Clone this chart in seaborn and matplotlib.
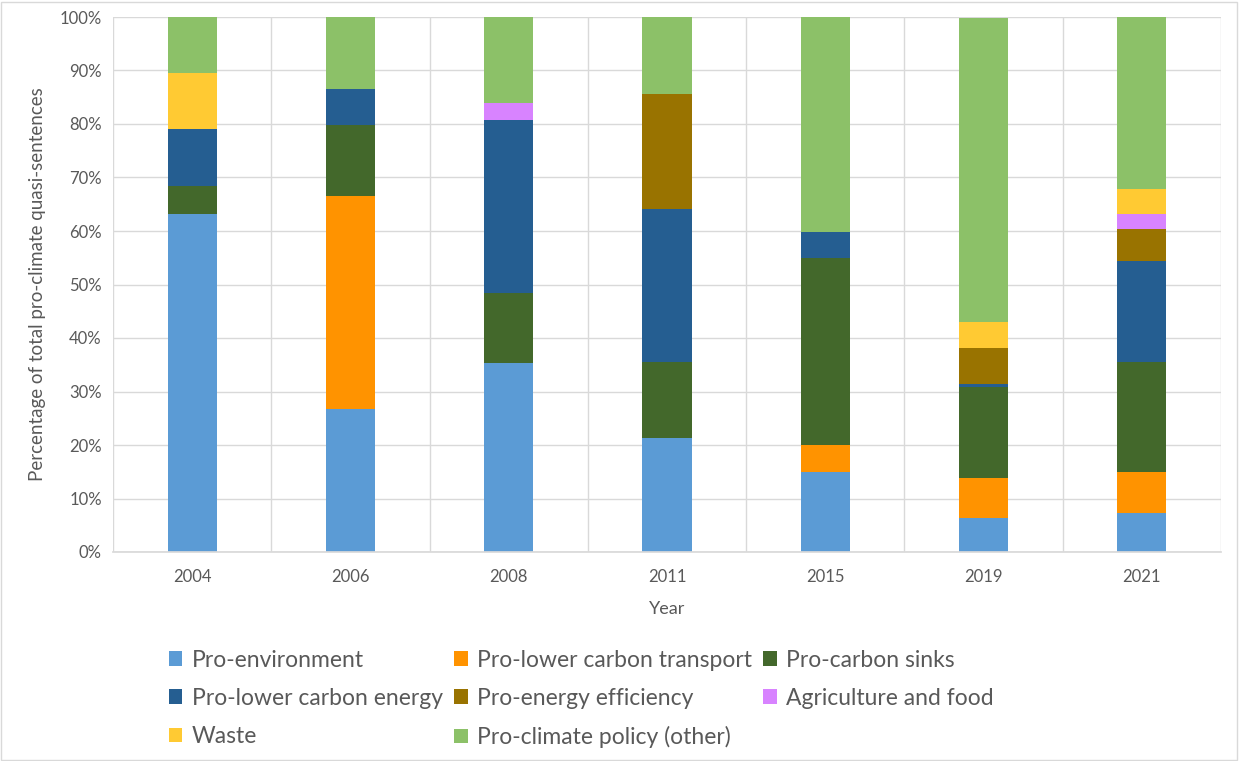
import matplotlib
matplotlib.use("Agg")
import matplotlib.pyplot as plt
import seaborn as sns
import numpy as np
import pandas as pd
from matplotlib.patches import Rectangle
from matplotlib.ticker import FixedLocator, PercentFormatter

years = ["2004", "2006", "2008", "2011", "2015", "2019", "2021"]
categories = ["Pro-environment", "Pro-lower carbon transport", "Pro-carbon sinks",
              "Pro-lower carbon energy", "Pro-energy efficiency", "Agriculture and food",
              "Waste", "Pro-climate policy (other)"]
pro_environment = [63.1, 26.7, 35.3, 21.4, 15.0, 6.3, 7.2]
pro_transport = [0.0, 39.9, 0.0, 0.0, 5.0, 7.6, 7.8]
pro_sinks = [5.3, 13.3, 13.1, 14.2, 35.0, 17.0, 20.6]
pro_energy = [10.6, 6.6, 32.3, 28.6, 4.9, 0.5, 18.8]
pro_efficiency = [0.0, 0.0, 0.0, 21.4, 0.0, 6.7, 6.0]
agriculture = [0.0, 0.0, 3.2, 0.0, 0.0, 0.0, 2.7]
waste = [10.5, 0.0, 0.0, 0.0, 0.0, 4.9, 4.7]
climate_other = [10.5, 13.5, 16.1, 14.4, 40.1, 56.9, 32.2]
colors = ["#5B9BD5", "#FF9300", "#43682B", "#255E91", "#997300", "#D883FF", "#FFCA33", "#8CC168"]

series = [pro_environment, pro_transport, pro_sinks, pro_energy, pro_efficiency,
          agriculture, waste, climate_other]

sns.set_theme(style="white")
plt.rcParams['font.family'] = ['Lato', 'DejaVu Sans']
text_color = "#595959"

fig = plt.figure(figsize=(12.39, 7.61), dpi=100)
ax = fig.add_axes([113/1239, (761-552)/761, (1221-113)/1239, (552-17)/761])

bottom = np.zeros(len(years))
for name, vals, col in zip(categories, series, colors):
    df = pd.DataFrame({"Year": years, "val": vals})
    sns.barplot(data=df, x="Year", y="val", bottom=bottom, color=col, width=0.31,
                label=name, ax=ax, saturation=1, linewidth=0)
    bottom = bottom + np.array(vals)

ax.set_ylim(0, 100)
ax.set_xlim(-0.5, len(years) - 0.5)
ax.yaxis.set_major_locator(FixedLocator(np.arange(0, 101, 10)))
ax.yaxis.set_major_formatter(PercentFormatter(decimals=0))
ax.xaxis.set_minor_locator(FixedLocator(np.arange(-0.5, len(years), 1.0)))
ax.grid(True, axis="y", which="major", color="#D9D9D9", linewidth=1)
ax.grid(True, axis="x", which="minor", color="#D9D9D9", linewidth=1)
ax.set_axisbelow(True)
for s in ["top", "right", "left"]:
    ax.spines[s].set_visible(False)
ax.spines["bottom"].set_color("#D9D9D9")
ax.tick_params(axis="x", which="both", length=0, labelsize=12, colors=text_color, pad=12)
ax.tick_params(axis="y", which="both", length=0, labelsize=12, colors=text_color, pad=8)
ax.set_xlabel("Year", fontsize=13, color=text_color, labelpad=12)
ax.set_ylabel("Percentage of total pro-climate quasi-sentences", fontsize=13.5,
              color=text_color, labelpad=10)

handles, labels = ax.get_legend_handles_labels()
if ax.get_legend() is not None:
    ax.get_legend().remove()
order = [0, 3, 6, 1, 4, 7, 2, 5]
leg = fig.legend([handles[i] for i in order], [labels[i] for i in order],
                 loc="upper left", bbox_to_anchor=(148/1239, 1 - 629/761), ncol=3,
                 frameon=False, fontsize=16.5, handlelength=0.6, handleheight=0.6,
                 handletextpad=0.4, columnspacing=0.5, labelspacing=0.75,
                 labelcolor=text_color)

fig.patches.append(Rectangle((0.001, 0.001), 0.997, 0.997, transform=fig.transFigure,
                             fill=False, edgecolor="#D9D9D9", linewidth=1))

fig.savefig("out.png", dpi=100)
